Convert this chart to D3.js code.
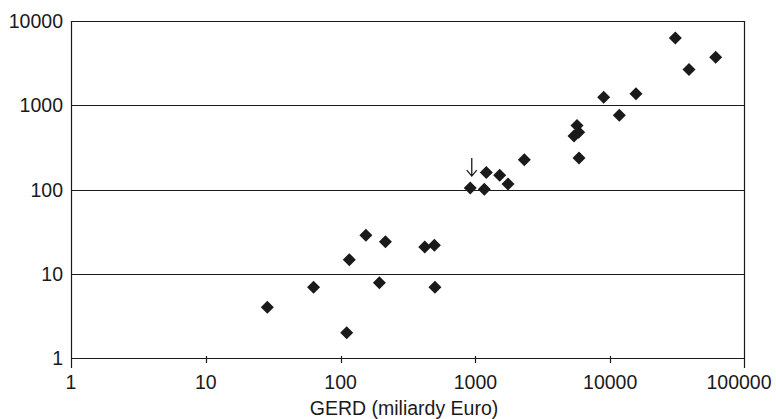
<!DOCTYPE html>
<html>
<head>
<meta charset="utf-8">
<script src="https://cdn.jsdelivr.net/npm/d3@7"></script>
<style>
  body { margin: 0; background: #fff; }
  text { font-family: "Liberation Sans", Arial, sans-serif; fill: #1a1a1a; }
</style>
</head>
<body>
<svg width="776" height="419"></svg>
<script>
// GERD (x) vs value (y)
const gerd = [28.6, 63, 111, 116, 154, 194, 215, 421, 496, 501,
              916, 1164, 1205, 1514, 1745, 2306,
              5673, 5389, 5838, 5870, 8950, 11690, 15530,
              30400, 38440, 60640];
const vals = [4.0, 6.9, 2.0, 14.7, 28.7, 7.8, 23.9, 20.8, 21.8, 6.9,
              104, 101, 159, 148, 116, 225,
              575, 433, 479, 237, 1248, 763, 1366,
              6270, 2662, 3725];
const xTicks = [1, 10, 100, 1000, 10000, 100000];
const yTicks = [1, 10, 100, 1000, 10000];
const arrowAt = [916, 104];   // point marked by the arrow
const xTitle = "GERD (miliardy Euro)";

const m = { top: 21, right: 31, bottom: 61, left: 71 };
const W = 776, H = 419;
const w = W - m.left - m.right, h = H - m.top - m.bottom;
const INK = "#1a1a1a";

var svg = d3.select("svg");
var g = svg.append("g").attr("transform", `translate(${m.left},${m.top})`);

var x = d3.scaleLog().domain([1, 100000]).range([0, w]);
var y = d3.scaleLog().domain([1, 10000]).range([h, 0]);

// horizontal grid lines
g.selectAll(".grid").data(yTicks).enter().append("line")
  .attr("x1", 0).attr("x2", w)
  .attr("y1", d => Math.round(y(d)) + 0.5).attr("y2", d => Math.round(y(d)) + 0.5)
  .attr("stroke", INK).attr("stroke-width", 1.2);

// left axis and right border
g.append("line").attr("x1", 0.5).attr("x2", 0.5).attr("y1", 0).attr("y2", h + 10)
  .attr("stroke", INK).attr("stroke-width", 1.2);
g.append("line").attr("x1", w - 0.5).attr("x2", w - 0.5).attr("y1", 0).attr("y2", h + 10)
  .attr("stroke", INK).attr("stroke-width", 1.2);

// x ticks
g.selectAll(".xt").data(xTicks.slice(1, -1)).enter().append("line")
  .attr("x1", d => Math.round(x(d)) + 0.5).attr("x2", d => Math.round(x(d)) + 0.5)
  .attr("y1", h - 2).attr("y2", h + 5)
  .attr("stroke", INK).attr("stroke-width", 1.2);

// x labels
g.selectAll(".xl").data(xTicks).enter().append("text")
  .attr("x", (d, i) => i === xTicks.length - 1 ? x(d) - 6 : x(d))
  .attr("y", h + 31)
  .attr("text-anchor", "middle")
  .attr("font-size", 19.5)
  .text(d => d);

// y labels
g.selectAll(".yl").data(yTicks).enter().append("text")
  .attr("x", -8)
  .attr("y", d => y(d))
  .attr("dy", "0.36em")
  .attr("text-anchor", "end")
  .attr("font-size", 19.5)
  .text(d => d);

// x title
g.append("text")
  .attr("x", w / 2 - 4)
  .attr("y", h + 57)
  .attr("text-anchor", "middle")
  .attr("font-size", 19.5)
  .text(xTitle);

// diamond markers
g.selectAll(".pt").data(gerd).enter().append("path")
  .attr("transform", (d, i) => `translate(${x(d)},${y(vals[i])})`)
  .attr("d", "M0,-6.5L6.5,0L0,6.5L-6.5,0Z")
  .attr("fill", INK);

// arrow above the marked point
var ax = x(arrowAt[0]) + 1.5, ay = y(arrowAt[1]);
g.append("path")
  .attr("d", `M${ax},${ay - 30}L${ax},${ay - 12}M${ax - 5},${ay - 18}L${ax},${ay - 12}L${ax + 5},${ay - 18}`)
  .attr("fill", "none").attr("stroke", INK).attr("stroke-width", 1.3);
</script>
</body>
</html>
